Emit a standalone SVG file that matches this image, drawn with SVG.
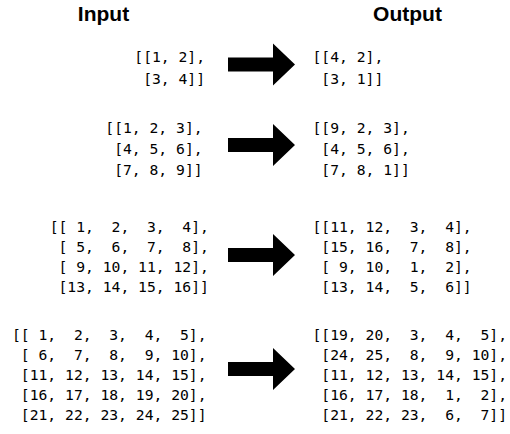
<svg xmlns="http://www.w3.org/2000/svg" width="510" height="434" viewBox="0 0 510 434">
<style>
.h{font-family:"Liberation Sans",Arial,sans-serif;font-weight:bold;font-size:21px;fill:#000;text-anchor:middle}
.m{font-family:"DejaVu Sans Mono","Liberation Mono",monospace;font-size:14.7px;fill:#000}
</style>
<defs>
<path id="arr" d="M0,-7 H45 V-21 L67,0 L45,21 V7 H0 Z" fill="#000"/>
</defs>
<rect width="510" height="434" fill="#fff"/>
<g id="header-input"><text class="h" x="103.5" y="20.5">Input</text></g>
<g id="header-output"><text class="h" x="407.5" y="20.5">Output</text></g>

<g id="in1" class="m"><text x="134.3" y="62">[[1,&#xA0;2],</text><text x="134.3" y="83.5">&#xA0;[3,&#xA0;4]]</text></g>
<g id="out1" class="m"><text x="312.5" y="62">[[4,&#xA0;2],</text><text x="312.5" y="83.5">&#xA0;[3,&#xA0;1]]</text></g>

<g id="in2" class="m"><text x="105.3" y="133">[[1,&#xA0;2,&#xA0;3],</text><text x="105.3" y="154">&#xA0;[4,&#xA0;5,&#xA0;6],</text><text x="105.3" y="175">&#xA0;[7,&#xA0;8,&#xA0;9]]</text></g>
<g id="out2" class="m"><text x="312.5" y="133">[[9,&#xA0;2,&#xA0;3],</text><text x="312.5" y="154">&#xA0;[4,&#xA0;5,&#xA0;6],</text><text x="312.5" y="175">&#xA0;[7,&#xA0;8,&#xA0;1]]</text></g>

<g id="in3" class="m"><text x="49.7" y="231.5">[[&#xA0;1,&#xA0;&#xA0;2,&#xA0;&#xA0;3,&#xA0;&#xA0;4],</text><text x="49.7" y="251.5">&#xA0;[&#xA0;5,&#xA0;&#xA0;6,&#xA0;&#xA0;7,&#xA0;&#xA0;8],</text><text x="49.7" y="271.5">&#xA0;[&#xA0;9,&#xA0;10,&#xA0;11,&#xA0;12],</text><text x="49.7" y="291.5">&#xA0;[13,&#xA0;14,&#xA0;15,&#xA0;16]]</text></g>
<g id="out3" class="m"><text x="312.5" y="231.5">[[11,&#xA0;12,&#xA0;&#xA0;3,&#xA0;&#xA0;4],</text><text x="312.5" y="251.5">&#xA0;[15,&#xA0;16,&#xA0;&#xA0;7,&#xA0;&#xA0;8],</text><text x="312.5" y="271.5">&#xA0;[&#xA0;9,&#xA0;10,&#xA0;&#xA0;1,&#xA0;&#xA0;2],</text><text x="312.5" y="291.5">&#xA0;[13,&#xA0;14,&#xA0;&#xA0;5,&#xA0;&#xA0;6]]</text></g>

<g id="in4" class="m"><text x="12" y="339.5">[[&#xA0;1,&#xA0;&#xA0;2,&#xA0;&#xA0;3,&#xA0;&#xA0;4,&#xA0;&#xA0;5],</text><text x="12" y="359.5">&#xA0;[&#xA0;6,&#xA0;&#xA0;7,&#xA0;&#xA0;8,&#xA0;&#xA0;9,&#xA0;10],</text><text x="12" y="379.5">&#xA0;[11,&#xA0;12,&#xA0;13,&#xA0;14,&#xA0;15],</text><text x="12" y="399.5">&#xA0;[16,&#xA0;17,&#xA0;18,&#xA0;19,&#xA0;20],</text><text x="12" y="419.5">&#xA0;[21,&#xA0;22,&#xA0;23,&#xA0;24,&#xA0;25]]</text></g>
<g id="out4" class="m"><text x="312.5" y="339.5">[[19,&#xA0;20,&#xA0;&#xA0;3,&#xA0;&#xA0;4,&#xA0;&#xA0;5],</text><text x="312.5" y="359.5">&#xA0;[24,&#xA0;25,&#xA0;&#xA0;8,&#xA0;&#xA0;9,&#xA0;10],</text><text x="312.5" y="379.5">&#xA0;[11,&#xA0;12,&#xA0;13,&#xA0;14,&#xA0;15],</text><text x="312.5" y="399.5">&#xA0;[16,&#xA0;17,&#xA0;18,&#xA0;&#xA0;1,&#xA0;&#xA0;2],</text><text x="312.5" y="419.5">&#xA0;[21,&#xA0;22,&#xA0;23,&#xA0;&#xA0;6,&#xA0;&#xA0;7]]</text></g>

<g id="connectors">
<use href="#arr" transform="translate(228,64.5)"/>
<use href="#arr" transform="translate(228,145)"/>
<use href="#arr" transform="translate(228,255)"/>
<use href="#arr" transform="translate(228,369)"/>
</g>
</svg>
